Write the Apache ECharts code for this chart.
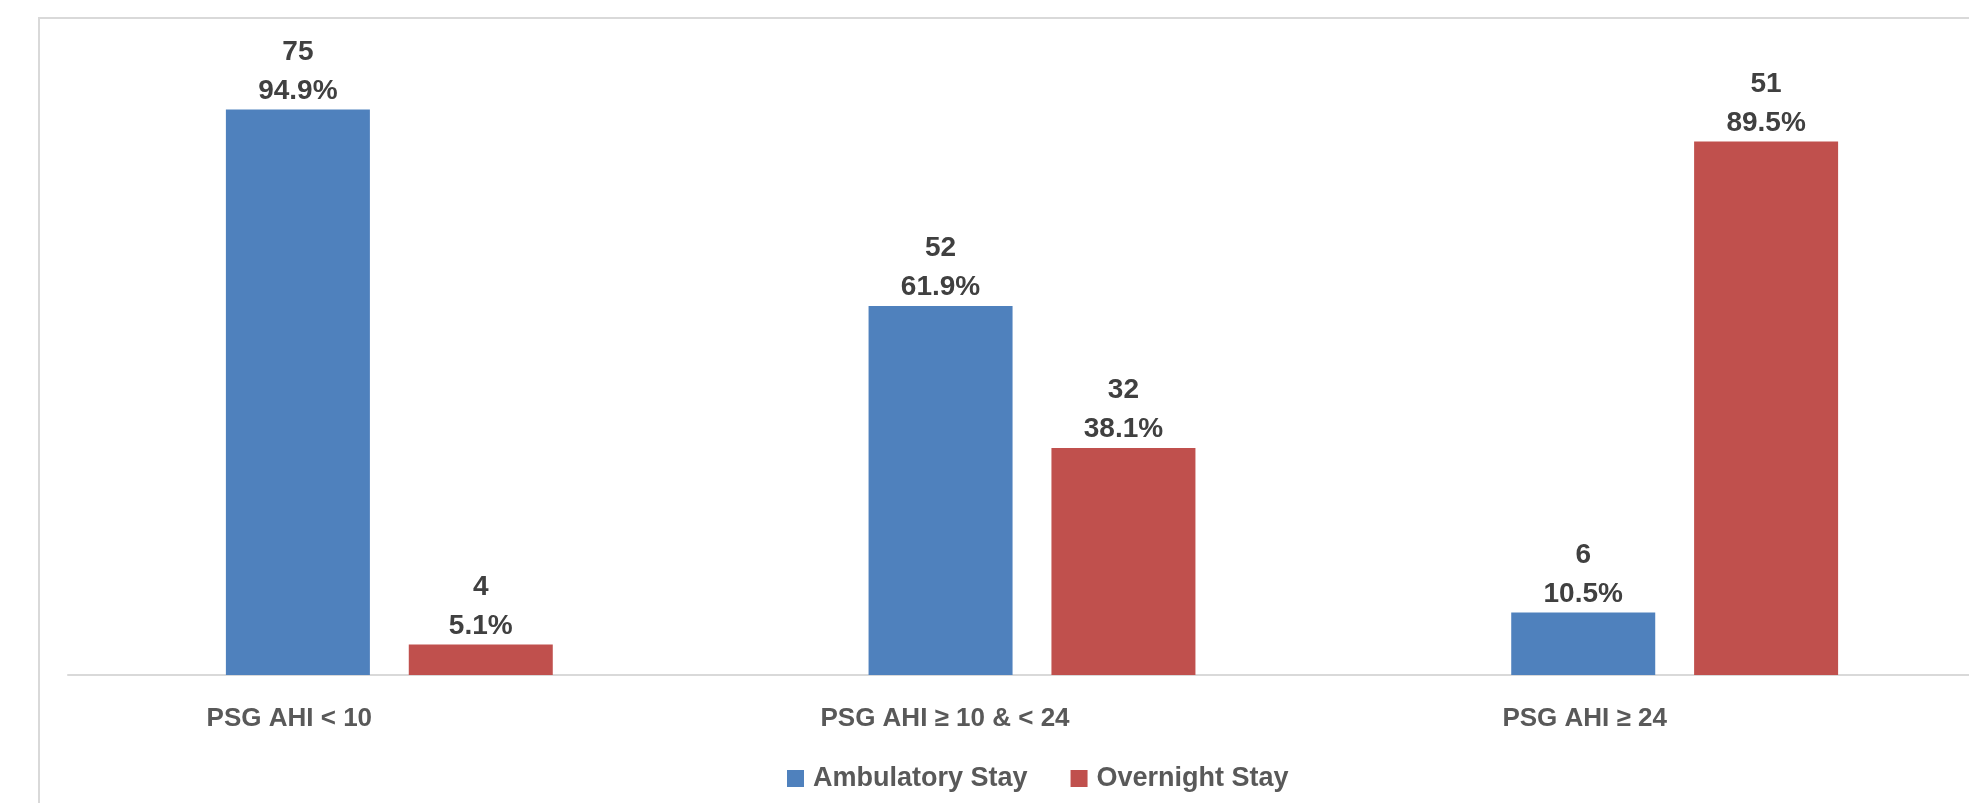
<!DOCTYPE html>
<html>
<head>
<meta charset="utf-8">
<title>PSG AHI - Ambulatory vs Overnight Stay</title>
<script src="https://cdn.jsdelivr.net/npm/echarts@6/dist/echarts.min.js"></script>
<style>
    html, body { margin: 0; padding: 0; background: #fff; }
    #main { width: 1969px; height: 803px; }
</style>
</head>
<body>
<div id="main"></div>
<script>
    // data
    var categories = ['PSG AHI < 10', 'PSG AHI ≥ 10 & < 24', 'PSG AHI ≥ 24'];
    var seriesNames = ['Ambulatory Stay', 'Overnight Stay'];
    var ambulatoryCount = [75, 52, 6];
    var ambulatoryPct = [94.9, 61.9, 10.5];
    var overnightCount = [4, 32, 51];
    var overnightPct = [5.1, 38.1, 89.5];

    var myChart = echarts.init(document.getElementById('main'));

    function makeLabel(counts) {
        return {
            show: true,
            position: 'top',
            distance: -1,
            fontFamily: 'Liberation Sans',
            fontWeight: 'bold',
            fontSize: 28,
            lineHeight: 39,
            color: '#404040',
            formatter: function (p) {
                return counts[p.dataIndex] + '\n' + p.value.toFixed(1) + '%';
            }
        };
    }

    var option = {
        backgroundColor: '#fff',
        animation: false,
        // light frame round the chart area (cut on right and bottom)
        graphic: [{
            type: 'rect',
            shape: { x: 39, y: 18, width: 2000, height: 900 },
            style: { fill: 'none', stroke: '#d9d9d9', lineWidth: 2 },
            silent: true,
            z: -1
        }],
        legend: {
            data: seriesNames,
            left: 782,
            top: 760,
            icon: 'rect',
            itemWidth: 17,
            itemHeight: 17,
            itemGap: 43,
            textStyle: {
                fontFamily: 'Liberation Sans',
                fontWeight: 'bold',
                fontSize: 27,
                color: '#595959',
                padding: [0, 0, 0, 4]
            }
        },
        grid: {
            left: 68,
            width: 1928,
            top: 79,
            bottom: 128,
            outerBoundsMode: 'none'
        },
        xAxis: {
            type: 'category',
            data: categories,
            axisLine: { lineStyle: { color: '#d9d9d9', width: 2 } },
            axisTick: { show: false },
            axisLabel: {
                margin: 31,
                formatter: function (v, i) {
                    return '{c' + i + '|' + v + '}';
                },
                rich: {
                    c0: { fontFamily: 'Liberation Sans', fontWeight: 'bold', fontSize: 26, color: '#595959', padding: [0, 200, 0, 0] },
                    c1: { fontFamily: 'Liberation Sans', fontWeight: 'bold', fontSize: 26, color: '#595959', padding: [0, 174, 0, 0] },
                    c2: { fontFamily: 'Liberation Sans', fontWeight: 'bold', fontSize: 26, color: '#595959', padding: [0, 180, 0, 0] }
                }
            }
        },
        yAxis: {
            type: 'value',
            min: 0,
            max: 100,
            show: false,
            splitLine: { show: false }
        },
        series: [
            {
                name: seriesNames[0],
                type: 'bar',
                data: ambulatoryPct,
                barWidth: 144,
                barGap: '27%',
                itemStyle: { color: '#4f81bd' },
                label: makeLabel(ambulatoryCount)
            },
            {
                name: seriesNames[1],
                type: 'bar',
                data: overnightPct,
                barWidth: 144,
                barGap: '27%',
                itemStyle: { color: '#c0504d' },
                label: makeLabel(overnightCount)
            }
        ]
    };

    myChart.setOption(option);
</script>
</body>
</html>
